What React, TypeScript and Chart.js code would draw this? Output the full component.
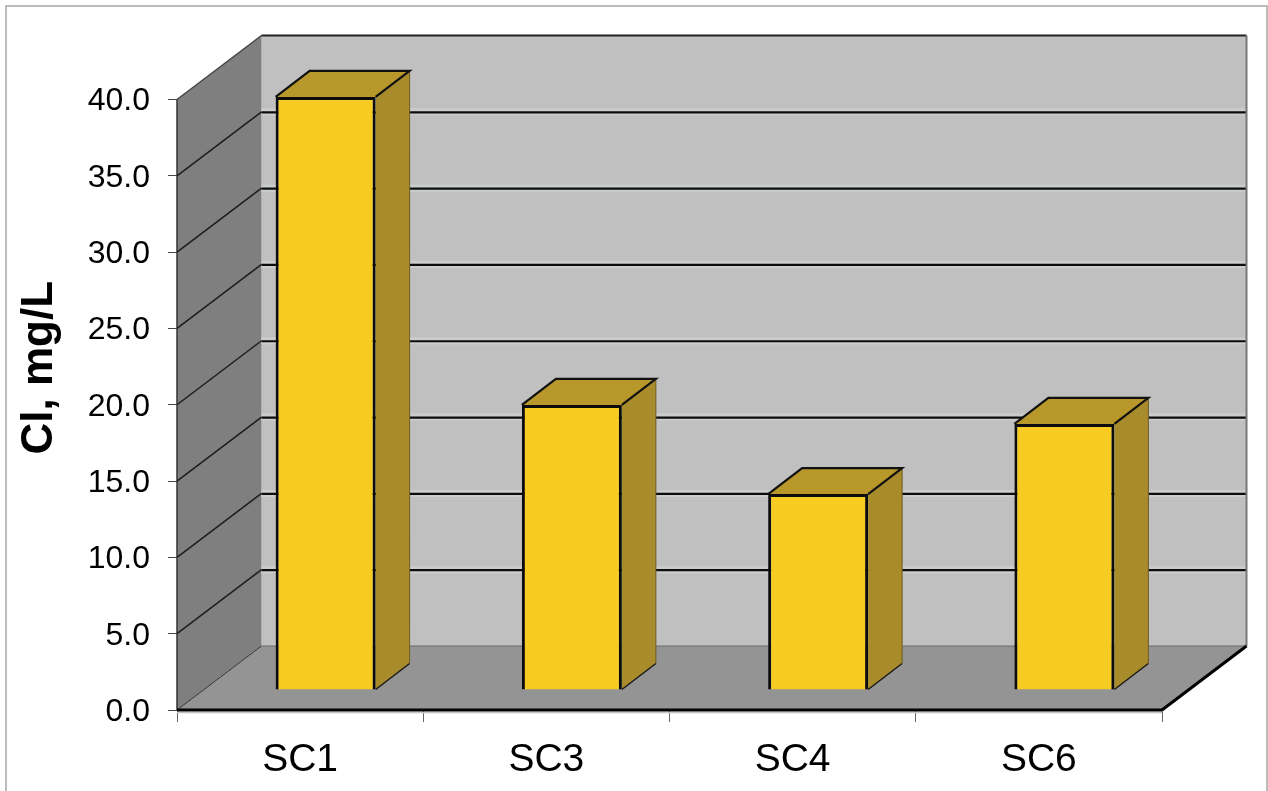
import React, { useEffect, useRef } from "react";
import { Chart, registerables } from "chart.js";

Chart.register(...registerables);

const categories = ["SC1", "SC3", "SC4", "SC6"];
const chlorideValues = [38.86, 18.68, 12.84, 17.43];
const axisMax = 40;
const axisStep = 5;
const axisTitle = "Cl, mg/L";

const FONT = "'Liberation Sans', Arial, sans-serif";
const WALL_DX = 84.5;
const WALL_DY = -64;
const BAR_DX = 25.5;
const BAR_DY = -20;
const SIDE_DX = 34;
const SIDE_DY = -26;

const poly = (ctx: CanvasRenderingContext2D, pts: number[][], fill?: string, stroke?: string, lw = 1) => {
  ctx.beginPath();
  pts.forEach((p, i) => (i ? ctx.lineTo(p[0], p[1]) : ctx.moveTo(p[0], p[1])));
  if (fill) {
    ctx.closePath();
    ctx.fillStyle = fill;
    ctx.fill();
  }
  if (stroke) {
    ctx.strokeStyle = stroke;
    ctx.lineWidth = lw;
    ctx.stroke();
  }
};

const framePlugin = {
  id: "frame3d",
  beforeDraw(chart: any) {
    const { ctx } = chart;
    ctx.save();
    ctx.fillStyle = "#ffffff";
    ctx.fillRect(0, 0, chart.width, chart.height);
    ctx.strokeStyle = "#a6a6a6";
    ctx.lineWidth = 1.5;
    ctx.strokeRect(6, 6, 1261, 800);
    ctx.restore();
  },
  beforeDatasetsDraw(chart: any) {
    const { ctx, chartArea: a, scales } = chart;
    const y = scales.y;
    const L = a.left, R = a.right, T = a.top, B = a.bottom;
    const dx = WALL_DX, dy = WALL_DY;
    ctx.save();
    poly(ctx, [[L + dx, T + dy], [R + dx, T + dy], [R + dx, B + dy], [L + dx, B + dy]], "#c0c0c0");
    poly(ctx, [[L, T], [L + dx, T + dy], [L + dx, B + dy], [L, B]], "#7f7f7f");
    poly(ctx, [[L, B], [R, B], [R + dx, B + dy], [L + dx, B + dy]], "#949494");
    for (const t of y.ticks) {
      const py = y.getPixelForValue(t.value);
      if (t.value > 0 && t.value < axisMax) {
        poly(ctx, [[L + dx, py + dy], [R + dx, py + dy]], undefined, "#cbcdcd", 7);
        poly(ctx, [[L + dx, py + dy + 0.5], [R + dx, py + dy + 0.5]], undefined, "#0c0c0c", 2.2);
        poly(ctx, [[L, py], [L + dx, py + dy]], undefined, "#1c1c1c", 1.5);
      }
    }
    poly(ctx, [[L, B + 2.5], [R, B + 2.5]], undefined, "#c4c4c4", 1.5);
    poly(ctx, [[L, T], [L, B]], undefined, "#333333", 1.5);
    poly(ctx, [[L, T], [L + dx, T + dy]], undefined, "#444444", 1.5);
    poly(ctx, [[L + dx, T + dy], [R + dx, T + dy]], undefined, "#222222", 2);
    poly(ctx, [[R + dx, T + dy], [R + dx, B + dy]], undefined, "#777777", 2);
    poly(ctx, [[L, B], [L + dx, B + dy]], undefined, "#333333", 1);
    poly(ctx, [[L + dx, B + dy], [R + dx, B + dy]], undefined, "#6a6a6a", 1);
    poly(ctx, [[L, B], [R, B]], undefined, "#000000", 3);
    poly(ctx, [[R, B], [R + dx, B + dy]], undefined, "#000000", 3);
    ctx.restore();
  },
  beforeDatasetDraw(chart: any, args: any) {
    const { ctx } = chart;
    ctx.save();
    ctx.translate(BAR_DX, BAR_DY);
    for (const el of args.meta.data) {
      const l = el.x - el.width / 2, r = el.x + el.width / 2;
      const t = el.y, b = el.base;
      poly(ctx, [[r, t], [r + SIDE_DX, t + SIDE_DY], [r + SIDE_DX, b + SIDE_DY], [r, b]], "#a88b2b");
      poly(ctx, [[l, t], [l + SIDE_DX, t + SIDE_DY], [r + SIDE_DX, t + SIDE_DY], [r, t]], "#b8982b");
      poly(ctx, [[r + SIDE_DX, t + SIDE_DY], [r + SIDE_DX, b + SIDE_DY]], undefined, "#6e5c20", 1);
      poly(ctx, [[r, b], [r + SIDE_DX, b + SIDE_DY]], undefined, "#1a1a1a", 1.5);
      poly(ctx, [[l, t], [l + SIDE_DX, t + SIDE_DY], [r + SIDE_DX, t + SIDE_DY], [r, t]], undefined, "#111111", 2.2);
    }
  },
  afterDatasetDraw(chart: any) {
    chart.ctx.restore();
  },
  afterDraw(chart: any) {
    const { ctx, chartArea: a } = chart;
    ctx.save();
    ctx.translate(52, (a.top + a.bottom) / 2 - 37);
    ctx.rotate(-Math.PI / 2);
    ctx.font = `bold 44px ${FONT}`;
    ctx.fillStyle = "#000000";
    ctx.textAlign = "center";
    ctx.textBaseline = "alphabetic";
    ctx.fillText(axisTitle, 0, 0);
    ctx.restore();
  },
};

export default function App() {
  const ref = useRef<HTMLCanvasElement>(null);
  useEffect(() => {
    const chart = new Chart(ref.current as HTMLCanvasElement, {
      type: "bar",
      data: {
        labels: categories,
        datasets: [
          {
            label: axisTitle,
            data: chlorideValues,
            backgroundColor: "#f7cb22",
            borderColor: "#0c0c0c",
            borderWidth: 3,
            barPercentage: 1,
            categoryPercentage: 0.406,
            clip: false,
          } as any,
        ],
      },
      plugins: [framePlugin],
      options: {
        responsive: false,
        animation: false,
        devicePixelRatio: 1,
        layout: { padding: { left: 0, right: 106, top: 99.5, bottom: 0 } },
        plugins: { legend: { display: false }, tooltip: { enabled: false } },
        scales: {
          x: {
            afterFit: (s: any) => { s.height = 81; },
            border: { display: false },
            grid: { drawOnChartArea: false, drawTicks: true, tickLength: 12, tickColor: "#666666", lineWidth: 1 },
            ticks: { color: "#000000", padding: 15, maxRotation: 0, font: { family: FONT, size: 39 } },
          },
          y: {
            min: 0,
            max: axisMax,
            afterFit: (s: any) => { s.width = 177; },
            border: { display: false },
            grid: { drawOnChartArea: false, drawTicks: true, tickLength: 9, tickColor: "#444444", lineWidth: 1 },
            ticks: {
              stepSize: axisStep,
              color: "#000000",
              padding: 18,
              labelOffset: 2,
              font: { family: FONT, size: 32 },
              callback: (v: any) => Number(v).toFixed(1),
            },
          },
        },
      } as any,
    });
    return () => chart.destroy();
  }, []);
  return (
    <canvas
      ref={ref}
      width={1268}
      height={791}
      style={{ position: "absolute", left: 0, top: 0, display: "block" }}
    />
  );
}
